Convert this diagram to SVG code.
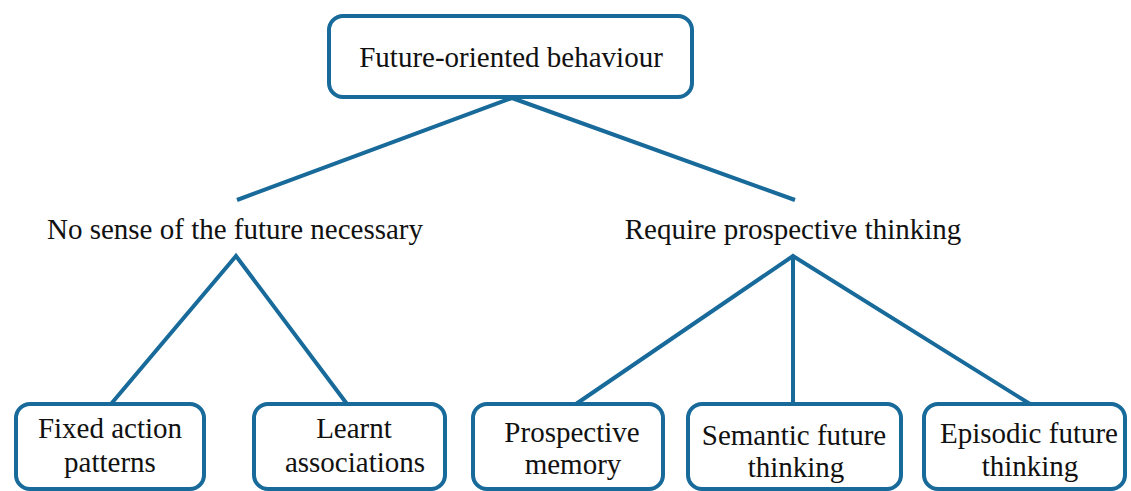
<svg xmlns="http://www.w3.org/2000/svg" width="1131" height="491" viewBox="0 0 1131 491">
<style>
.box{fill:#fff;stroke:#176a9a;stroke-width:4}
.t{font-family:"Liberation Serif","Times New Roman",serif;font-size:29px;fill:#111;text-anchor:middle}
.c{stroke:#176a9a;stroke-width:4;fill:none;stroke-linecap:butt}
</style>
<rect width="1131" height="491" fill="#fff"/>
<g id="connectors">
<polyline class="c" points="237,200 512,98 795,200"/>
<polyline class="c" points="111,404 236,256 347,404"/>
<polyline class="c" points="576,404 793,256 1030,404"/>
<line class="c" x1="793" y1="256" x2="793" y2="404"/>
</g>
<g id="root">
<rect class="box" x="329" y="16" width="363" height="81" rx="14"/>
<text class="t" x="511" y="67">Future-oriented behaviour</text>
</g>
<g id="no-sense">
<text class="t" x="235" y="239">No sense of the future necessary</text>
</g>
<g id="require">
<text class="t" x="793" y="239">Require prospective thinking</text>
</g>
<g id="fixed">
<rect class="box" x="16" y="404" width="188" height="85" rx="14"/>
<text class="t" x="110" y="438">Fixed action</text>
<text class="t" x="110" y="472">patterns</text>
</g>
<g id="learnt">
<rect class="box" x="254" y="404" width="191" height="85" rx="14"/>
<text class="t" x="354" y="438">Learnt</text>
<text class="t" x="355" y="472">associations</text>
</g>
<g id="prospective">
<rect class="box" x="473" y="404" width="190" height="85" rx="14"/>
<text class="t" x="572" y="442">Prospective</text>
<text class="t" x="573" y="474">memory</text>
</g>
<g id="semantic">
<rect class="box" x="688" y="404" width="213" height="85" rx="14"/>
<text class="t" x="794" y="445">Semantic future</text>
<text class="t" x="796" y="477">thinking</text>
</g>
<g id="episodic">
<rect class="box" x="924" y="404" width="201" height="85" rx="14"/>
<text class="t" x="1029" y="443">Episodic future</text>
<text class="t" x="1030" y="476">thinking</text>
</g>
</svg>
